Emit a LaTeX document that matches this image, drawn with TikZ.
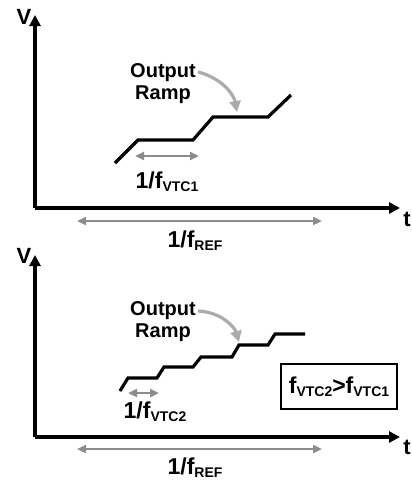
\documentclass[tikz,border=0pt]{standalone}
\usepackage{fontspec}
\setmainfont{Liberation Sans}
\usepackage{xcolor}
\definecolor{dimgray}{HTML}{8C8C8C}
\definecolor{pointgray}{HTML}{ABABAB}
\usetikzlibrary{arrows.meta}
\newcommand{\vsub}[1]{\raisebox{-0.25ex}{\fontsize{14}{15}\selectfont #1}}

\begin{document}
\begin{tikzpicture}[
  x=1pt, y=-1pt,
  font=\bfseries\fontsize{20}{22}\selectfont,
  every node/.style={inner sep=0pt, anchor=base},
  axis/.style={line width=3.2pt, -{Triangle[length=11pt,width=11pt]}},
  ramp/.style={line width=3.2pt},
  period/.style={dimgray, line width=2.6pt,
    {Triangle[length=9pt,width=8pt]}-{Triangle[length=9pt,width=8pt]}},
  pointer/.style={pointgray, line width=3.2pt, -{Triangle[length=11pt,width=11pt]}},
  big/.style={font=\bfseries\fontsize{23}{25}\selectfont},
  axlabel/.style={font=\bfseries\fontsize{22}{24}\selectfont}
]
  \useasboundingbox (0,0) rectangle (412,482);

  % top: slow VTC
  \coordinate (o1) at (35,208);
  \draw[axis] (o1) -- (35,15);
  \draw[axis] (o1) -- (400,208);
  \node[axlabel] (v1) at (24,24) {V};
  \node[axlabel] (t1) at (407,226) {t};
  \draw[period] (77,221) -- (322,221);
  \node[big] (ref1) at (195,247) {1/f\vsub{REF}};

  \draw[ramp] (115,163) -- (138,140) -- (193,140) -- (213,117)
    -- (268,117) -- (291,95);
  \coordinate (hit1) at (237,112);
  \node (out1) at (163,77) {Output};
  \node (ramp1) at (163,99) {Ramp};
  \draw[pointer] (out1.base east) ++(2,-5) coordinate (s1)
    .. controls (222,78) and (234,95) .. (hit1);
  \draw[period] (135,156) -- (199,156);
  \node[big] (vtc1) at (167,188) {1/f\vsub{VTC1}};

  % bottom: fast VTC
  \coordinate (o2) at (35,437);
  \draw[axis] (o2) -- (35,255);
  \draw[axis] (o2) -- (400,437);
  \node[axlabel] (v2) at (24,263) {V};
  \node[axlabel] (t2) at (407,454) {t};
  \draw[period] (77,449) -- (322,449);
  \node[big] (ref2) at (195,474) {1/f\vsub{REF}};

  \draw[ramp] (120,391) -- (128,378) -- (157,378) -- (164,367)
    -- (193,367) -- (201,357) -- (232,357) -- (239,345)
    -- (268,345) -- (275,334) -- (305,334);
  \coordinate (hit2) at (239,342);
  \node (out2) at (163,315) {Output};
  \node (ramp2) at (163,337) {Ramp};
  \draw[pointer] (out2.base east) ++(2,-4) coordinate (s2)
    .. controls (222,312) and (235,328) .. (hit2);
  \draw[period] (128,393) -- (159,393);
  \node[big] (vtc2) at (155,418) {1/f\vsub{VTC2}};

  \node[big, draw, line width=1.6pt, anchor=center, minimum width=116,
        minimum height=45] (cmp) at (339,386.5) {f\vsub{VTC2}>f\vsub{VTC1}};
\end{tikzpicture}
\end{document}
